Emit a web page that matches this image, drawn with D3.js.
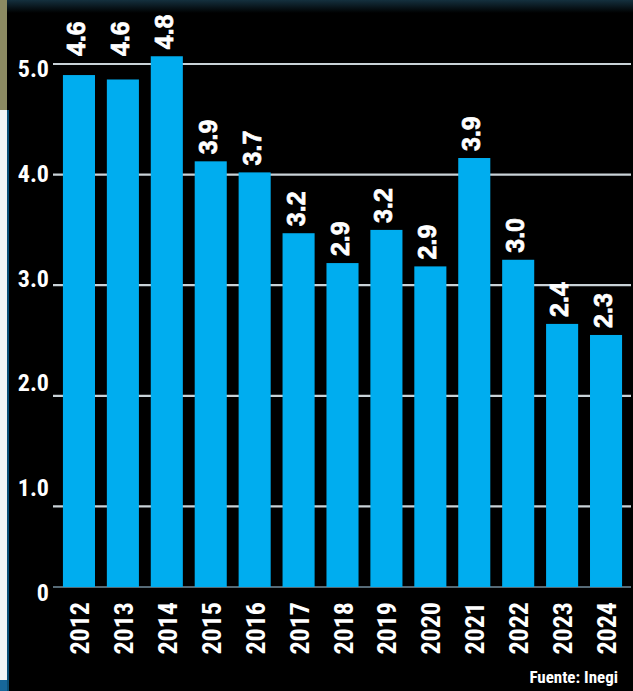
<!DOCTYPE html>
<html>
<head>
<meta charset="utf-8">
<script src="https://cdn.jsdelivr.net/npm/d3@7"></script>
<style>
    html, body { margin: 0; padding: 0; background: #000; }
    svg { display: block; }
</style>
</head>
<body>
<div id="chart-container"></div>
<script>
const years = ["2012", "2013", "2014", "2015", "2016", "2017", "2018", "2019", "2020", "2021", "2022", "2023", "2024"];
// printed values on top of the bars
const labels = [4.6, 4.6, 4.8, 3.9, 3.7, 3.2, 2.9, 3.2, 2.9, 3.9, 3.0, 2.4, 2.3];
// bar heights as drawn against the gridlines
const barValues = [4.90, 4.86, 5.07, 4.12, 4.02, 3.47, 3.20, 3.50, 3.17, 4.15, 3.23, 2.65, 2.55];
const gridTicks = [1, 2, 3, 4, 5];
const axisTicks = [0, 1, 2, 3, 4, 5];
const source = "Fuente: Inegi";

const svgWidth = 633;
const svgHeight = 691;
const margin = { top: 64, right: 2, bottom: 104, left: 53 };
const plotBottom = svgHeight - margin.bottom; // 587

const narrow = "'Liberation Sans Narrow', 'Arial Narrow', 'Roboto Condensed', sans-serif";
const bold = "'Liberation Sans', Arial, Helvetica, sans-serif";

const svg = d3.select("#chart-container")
    .append("svg")
    .attr("width", svgWidth)
    .attr("height", svgHeight);

// background + bits of the page around the graphic
const defs = svg.append("defs");
const grad = defs.append("linearGradient")
    .attr("id", "topfade")
    .attr("x1", 0).attr("y1", 0).attr("x2", 0).attr("y2", 1);
grad.append("stop").attr("offset", "0%").attr("stop-color", "#14303e");
grad.append("stop").attr("offset", "100%").attr("stop-color", "#000");

svg.append("rect").attr("width", svgWidth).attr("height", svgHeight).attr("fill", "#000");
svg.append("rect").attr("x", 0).attr("y", 0).attr("width", svgWidth).attr("height", 13).attr("fill", "url(#topfade)");
svg.append("rect").attr("x", 0).attr("y", 0).attr("width", 7).attr("height", 110).attr("fill", "#8c8a62");
svg.append("rect").attr("x", 0).attr("y", 110).attr("width", 7).attr("height", 570).attr("fill", "#f3f5f5");
svg.append("rect").attr("x", 0).attr("y", 680).attr("width", 7).attr("height", 11).attr("fill", "#17679a");
svg.append("rect").attr("x", 7).attr("y", 110).attr("width", 2).attr("height", 581).attr("fill", "#0b4f76");

// scales
const x = d3.scaleBand()
    .domain(years)
    .range([57, 628])
    .paddingInner(0.27)
    .paddingOuter(0.135);

// the value axis is cut: the floor of the plot sits above the real zero
const y = d3.scaleLinear()
    .domain([0, 5])
    .range([plotBottom + 30, margin.top]);

// tick labels are evenly spaced down the side
const yLabel = d3.scaleLinear()
    .domain([0, 5])
    .range([592, 68]);

// gridlines
svg.append("g")
    .selectAll("line")
    .data(gridTicks)
    .enter()
    .append("line")
    .attr("x1", margin.left)
    .attr("x2", svgWidth - margin.right)
    .attr("y1", d => y(d))
    .attr("y2", d => y(d))
    .attr("stroke", "#c9d2d7")
    .attr("stroke-width", 2.2);

// base line
svg.append("line")
    .attr("x1", margin.left)
    .attr("x2", svgWidth - margin.right)
    .attr("y1", plotBottom)
    .attr("y2", plotBottom)
    .attr("stroke", "#566a76")
    .attr("stroke-width", 2);

// bars
svg.append("g")
    .selectAll("rect")
    .data(years)
    .enter()
    .append("rect")
    .attr("x", d => x(d))
    .attr("width", x.bandwidth())
    .attr("y", (d, i) => y(barValues[i]))
    .attr("height", (d, i) => plotBottom - y(barValues[i]))
    .attr("fill", "#00adef");

// value labels, rotated; kept above the top gridline when they would cross it
const labelLen = 34;
svg.append("g")
    .selectAll("text")
    .data(years)
    .enter()
    .append("text")
    .attr("transform", (d, i) => {
        let end = y(barValues[i]) - 7;
        const top = y(5);
        if (end > top && end - labelLen < top) end = top - 8;
        return `translate(${x(d) + x.bandwidth() / 2 + 6}, ${end}) rotate(-90)`;
    })
    .attr("text-anchor", "start")
    .attr("fill", "#fff")
    .attr("stroke", "#fff")
    .attr("stroke-width", 0.7)
    .attr("font-family", bold)
    .attr("font-weight", "bold")
    .attr("font-size", "25px")
    .text((d, i) => labels[i].toFixed(1));

// year labels
const xAxis = svg.append("g")
    .attr("transform", `translate(0, ${plotBottom})`)
    .call(d3.axisBottom(x).tickSize(0).tickPadding(0));
xAxis.select(".domain").remove();
xAxis.selectAll(".tick text")
    .attr("transform", "translate(10, 15) rotate(-90)")
    .attr("x", 0)
    .attr("y", 0)
    .attr("dy", 0)
    .attr("text-anchor", "end")
    .attr("fill", "#fff")
    .attr("font-family", narrow)
    .attr("font-weight", "bold")
    .attr("font-size", "26px");

// value axis labels
const yAxis = svg.append("g")
    .attr("transform", "translate(49, 0)")
    .call(d3.axisLeft(yLabel).tickValues(axisTicks).tickSize(0).tickPadding(0)
        .tickFormat(d => d === 0 ? "0" : d3.format(".1f")(d)));
yAxis.select(".domain").remove();
yAxis.selectAll(".tick text")
    .attr("fill", "#fff")
    .attr("font-family", narrow)
    .attr("font-weight", "bold")
    .attr("font-size", "24px")
    .attr("dy", "0.35em");

// source
svg.append("text")
    .attr("x", 618)
    .attr("y", 683)
    .attr("text-anchor", "end")
    .attr("fill", "#fff")
    .attr("font-family", narrow)
    .attr("font-weight", "bold")
    .attr("font-size", "17px")
    .text(source);
</script>
</body>
</html>
